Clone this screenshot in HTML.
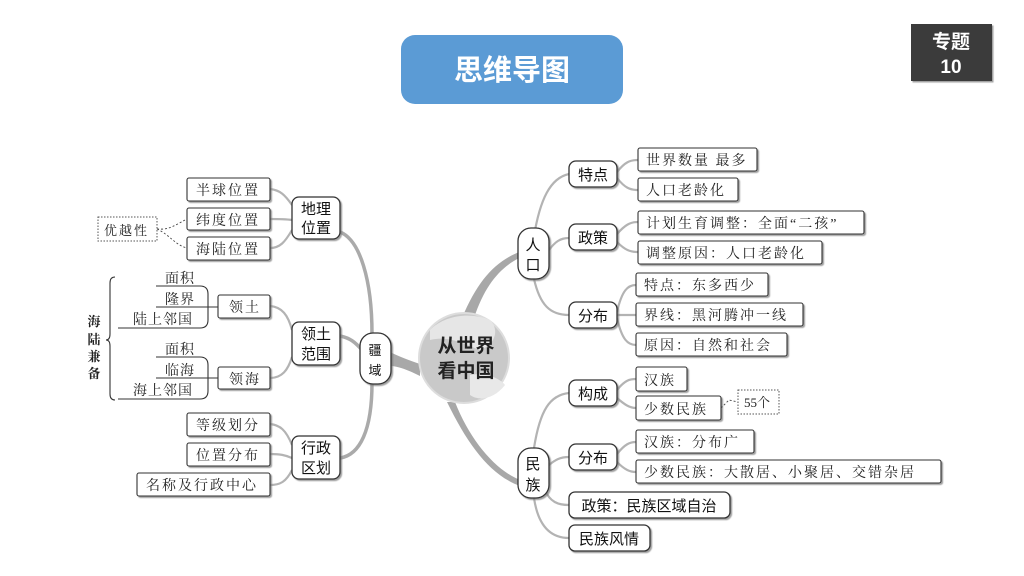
<!DOCTYPE html>
<html><head><meta charset="utf-8"><style>
html,body{margin:0;padding:0;background:#fff;width:1024px;height:576px;overflow:hidden}
svg{display:block}
.s{font-family:"Liberation Sans","Noto Sans CJK SC",sans-serif}
.r{font-family:"Liberation Serif","Noto Serif CJK SC",serif}
</style></head><body>
<svg width="1024" height="576" viewBox="0 0 1024 576" xmlns="http://www.w3.org/2000/svg">
<defs><filter id="sh" x="-10%" y="-10%" width="130%" height="140%"><feDropShadow dx="1.5" dy="1.5" stdDeviation="0.6" flood-color="#777" flood-opacity="0.7"/></filter></defs>
<!-- title -->
<rect x="401" y="35" width="222" height="69" rx="14" fill="#5b9bd5"/>
<text x="512" y="80" text-anchor="middle" class="s" font-size="29" font-weight="bold" fill="#fff">思维导图</text>
<rect x="911" y="24" width="81" height="57" fill="#3b3b3b" filter="url(#sh)"/>
<text x="951" y="48" text-anchor="middle" class="s" font-size="19" font-weight="bold" fill="#fff">专题</text>
<text x="951" y="73" text-anchor="middle" class="s" font-size="19" font-weight="bold" fill="#fff">10</text>

<!-- main thick connectors -->
<g fill="#a8a8a8" stroke="none">
<path d="M462,318 C478,280 495,262 519,252 L519,258 C500,268 485,285 474,318 Z"/>
<path d="M455,402 C470,440 495,470 520,480 L520,486 C490,475 468,445 447,402 Z"/>
<path d="M420,364 C408,360 398,356 390,352 L390,366 C398,366 408,370 420,376 Z"/>
</g>
<g fill="none" stroke="#aaa" stroke-width="3.5">
<path d="M372,334 C372,280 360,240 340,232"/>
<path d="M362,350 C355,342 350,338 340,336"/>
<path d="M372,383 C372,430 360,455 340,458"/>
</g>
<g fill="none" stroke="#b3b3b3" stroke-width="2.2">
<path d="M292,205 C285,195 280,190 270,189"/>
<path d="M292,220 C285,219 280,219 270,219"/>
<path d="M292,230 C285,242 280,248 270,248"/>
<path d="M292,330 C288,315 282,307 270,306"/>
<path d="M292,357 C288,370 282,378 270,378"/>
<path d="M292,445 C286,430 280,425 270,424"/>
<path d="M292,458 C285,455 280,454 270,454"/>
<path d="M292,470 C286,482 280,485 270,485"/>
<!-- right -->
<path d="M534,236 C540,200 550,178 569,174"/>
<path d="M549,250 C555,242 560,238 569,238"/>
<path d="M534,279 C540,305 550,315 569,315"/>
<path d="M617,172 C625,162 630,160 638,160"/>
<path d="M617,178 C625,188 630,190 638,190"/>
<path d="M617,234 C625,225 630,222 638,222"/>
<path d="M617,242 C625,250 630,252 638,252"/>
<path d="M617,312 C622,290 628,285 636,285"/>
<path d="M617,315 L636,315"/>
<path d="M617,318 C622,340 628,345 636,345"/>
<path d="M534,448 C540,410 550,395 569,393"/>
<path d="M549,465 C555,460 560,457 569,457"/>
<path d="M545,490 C550,502 558,505 569,505"/>
<path d="M534,498 C538,525 550,538 569,538"/>
<path d="M617,390 C625,380 630,379 636,379"/>
<path d="M617,398 C625,405 630,408 636,408"/>
<path d="M617,454 C625,444 630,442 636,442"/>
<path d="M617,462 C625,470 630,472 636,472"/>
</g>

<!-- globe -->
<circle cx="464" cy="358" r="45" fill="#c9c9c9" stroke="#ddd" stroke-width="2"/>
<path d="M430,330 C445,315 470,312 490,320 C500,330 495,345 480,350 C465,345 450,335 430,340 Z" fill="#e6e6e6"/>
<path d="M470,375 C485,372 500,378 505,385 C495,398 480,402 470,395 Z" fill="#e8e8e8"/>
<text x="466" y="352" text-anchor="middle" class="s" font-size="19" font-weight="bold" fill="#222">从世界</text>
<text x="466" y="377" text-anchor="middle" class="s" font-size="19" font-weight="bold" fill="#222">看中国</text>

<!-- rounded nodes -->
<g fill="#fff" stroke="#333" stroke-width="1.3" filter="url(#sh)">
<rect x="360" y="333" width="31" height="51" rx="13"/>
<rect x="518" y="228" width="31" height="51" rx="13"/>
<rect x="518" y="448" width="31" height="50" rx="13"/>
<rect x="292" y="197" width="48" height="42" rx="7"/>
<rect x="292" y="322" width="48" height="43" rx="7"/>
<rect x="292" y="436" width="48" height="43" rx="7"/>
<rect x="569" y="161" width="48" height="26" rx="7"/>
<rect x="569" y="224" width="48" height="26" rx="7"/>
<rect x="569" y="302" width="48" height="26" rx="7"/>
<rect x="569" y="380" width="48" height="26" rx="7"/>
<rect x="569" y="444" width="48" height="26" rx="7"/>
<rect x="569" y="492" width="161" height="26" rx="6"/>
<rect x="569" y="525" width="81" height="26" rx="6"/>
</g>
<g class="s" font-size="15" fill="#111" text-anchor="middle">
<text x="375" y="355" font-size="13">疆</text><text x="375" y="375" font-size="13">域</text>
<text x="533" y="250">人</text><text x="533" y="270">口</text>
<text x="533" y="469">民</text><text x="533" y="490">族</text>
<text x="316" y="214">地理</text><text x="316" y="233">位置</text>
<text x="316" y="339">领土</text><text x="316" y="359">范围</text>
<text x="316" y="453">行政</text><text x="316" y="473">区划</text>
<text x="593" y="180">特点</text>
<text x="593" y="243">政策</text>
<text x="593" y="321">分布</text>
<text x="593" y="399">构成</text>
<text x="593" y="463">分布</text>
<text x="649" y="511">政策：民族区域自治</text>
<text x="609" y="544">民族风情</text>
</g>

<!-- square leaf boxes -->
<g fill="#fff" stroke="#333" stroke-width="1.1" filter="url(#sh)">
<rect x="187" y="178" width="83" height="23" rx="2"/>
<rect x="187" y="208" width="83" height="22" rx="2"/>
<rect x="187" y="237" width="83" height="23" rx="2"/>
<rect x="218" y="295" width="52" height="23" rx="2"/>
<rect x="218" y="367" width="52" height="22" rx="2"/>
<rect x="187" y="413" width="83" height="23" rx="2"/>
<rect x="187" y="443" width="83" height="23" rx="2"/>
<rect x="137" y="473" width="133" height="23" rx="2"/>
<rect x="638" y="148" width="119" height="23" rx="2"/>
<rect x="638" y="178" width="100" height="23" rx="2"/>
<rect x="638" y="211" width="226" height="23" rx="2"/>
<rect x="638" y="241" width="184" height="23" rx="2"/>
<rect x="636" y="273" width="132" height="23" rx="2"/>
<rect x="636" y="303" width="167" height="23" rx="2"/>
<rect x="636" y="333" width="151" height="23" rx="2"/>
<rect x="636" y="367" width="51" height="24" rx="2"/>
<rect x="636" y="396" width="85" height="24" rx="2"/>
<rect x="636" y="430" width="118" height="23" rx="2"/>
<rect x="636" y="460" width="305" height="23" rx="2"/>
</g>
<g fill="#fff" stroke="#555" stroke-width="1" stroke-dasharray="1.5,1.5">
<rect x="98" y="217" width="59" height="24"/>
<rect x="738" y="390" width="41" height="24"/>
</g>
<g fill="none" stroke="#444" stroke-width="0.9" stroke-dasharray="2,2">
<path d="M157,229 C170,230 175,225 187,219"/>
<path d="M157,229 C170,235 175,245 187,248"/>
<path d="M721,408 L729,400 L738,402"/>
</g>
<g class="r" font-size="14" fill="#222" text-anchor="start" letter-spacing="2">
<text x="196" y="195">半球位置</text>
<text x="196" y="225">纬度位置</text>
<text x="196" y="254">海陆位置</text>
<text x="104" y="235" font-size="13">优越性</text>
<text x="229" y="312">领土</text>
<text x="229" y="384">领海</text>
<text x="196" y="430">等级划分</text>
<text x="196" y="460">位置分布</text>
<text x="146" y="490">名称及行政中心</text>
<text x="646" y="165">世界数量 最多</text>
<text x="646" y="195">人口老龄化</text>
<text x="646" y="228">计划生育调整：全面“二孩”</text>
<text x="646" y="258">调整原因：人口老龄化</text>
<text x="644" y="290">特点：东多西少</text>
<text x="644" y="320">界线：黑河腾冲一线</text>
<text x="644" y="350">原因：自然和社会</text>
<text x="644" y="385">汉族</text>
<text x="644" y="414">少数民族</text>
<text x="744" y="407" font-size="13" letter-spacing="0">55个</text>
<text x="644" y="447">汉族：分布广</text>
<text x="644" y="477">少数民族：大散居、小聚居、交错杂居</text>
</g>

<!-- land/sea lines -->
<g fill="none" stroke="#333" stroke-width="1.1">
<path d="M156,286 L200,286 Q208,286 208,294 L208,320 Q208,328 200,328 L118,328"/>
<path d="M156,307 L218,307"/>
<path d="M156,357 L200,357 Q208,357 208,365 L208,391 Q208,399 200,399 L118,399"/>
<path d="M156,378 L218,378"/>
<path d="M115,277 Q110,277 110,283 L110,334 Q110,340 106,340 Q110,340 110,346 L110,394 Q110,400 115,400"/>
</g>
<g class="r" font-size="14" fill="#222" letter-spacing="1">
<text x="165" y="283">面积</text>
<text x="165" y="304">隆界</text>
<text x="133" y="324">陆上邻国</text>
<text x="165" y="354">面积</text>
<text x="165" y="375">临海</text>
<text x="133" y="395">海上邻国</text>
</g>
<g class="r" font-size="13" fill="#222" text-anchor="middle" font-weight="bold">
<text x="94" y="326">海</text><text x="94" y="344">陆</text><text x="94" y="361">兼</text><text x="94" y="378">备</text>
</g>
</svg>
</body></html>
